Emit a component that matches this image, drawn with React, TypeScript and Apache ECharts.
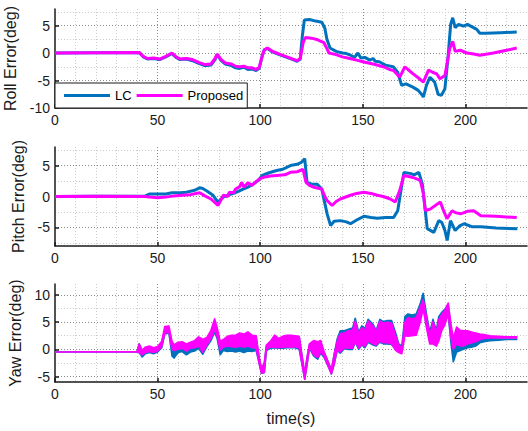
import React, { useEffect, useRef } from 'react';
import * as echarts from 'echarts';

const BLUE = '#0072BD';
const MAG = '#FF00FF';
const INK = '#1a1a1a';
const FONT = "'Liberation Sans', Arial, Helvetica, sans-serif";

const LEGEND_NAMES = ['LC', 'Proposed'];
const Y_NAMES = ['Roll Error(deg)', 'Pitch Error(deg)', 'Yaw Error(deg)'];
const X_NAME = 'time(s)';

// [time, value]
const ROLL_LC = [
  [0, 0], [20, 0.05], [41, 0.1], [43, -0.7], [45, -1.1], [48, -1.0], [51, -1.2], [54, -0.7], [57, -0.1],
  [59, -0.8], [61, -1.2], [64, -1.1], [67, -1.4], [70, -1.9], [73, -2.3], [76, -2.2], [78, -1.2], [79, -0.3],
  [81, -1.4], [83, -2.0], [86, -2.3], [88, -2.7], [90, -2.8], [92, -2.6], [94, -3.0], [96, -2.9], [98, -3.2],
  [99.5, -2.8], [101, -0.5], [102, 0.6], [103.5, 0.8], [106, 0.2], [108, -0.1], [110, -0.4], [113, -0.8],
  [116, -1.2], [118, -1.5], [119.5, -1.1], [120.5, 3.0], [121.5, 6.0], [124, 6.1], [127, 5.8], [130, 5.6],
  [131.5, 4.5], [132.5, 2.5], [134, 0.9], [137, 0.3], [140, 0.0], [142, -0.1], [144, -0.4], [146, -0.8],
  [147.6, 0.0], [149, -0.9], [151, -0.8], [153.4, -1.3], [155, -1.0], [156, -1.5], [158, -1.6], [161, -2.2],
  [164.8, -2.5], [167, -3.5], [168.9, -5.9], [171, -5.6], [174.4, -6.2], [177, -6.8], [178.6, -7.5],
  [179.5, -8.0], [181, -5.9], [182.7, -4.4], [185, -5.3], [186.7, -7.5], [188.3, -7.7], [190, -6.5],
  [191.6, -0.4], [192.8, 5.2], [193.8, 6.4], [195, 4.6], [196.5, 5.2], [199, 4.9], [201, 5.2], [203, 4.8],
  [205.5, 4.3], [207, 3.6], [210, 3.6], [217, 3.7], [225, 3.8],
];

const ROLL_P = [
  [0, 0], [20, 0.05], [41, 0.1], [43, -0.6], [45, -1.0], [48, -0.9], [51, -1.1], [54, -0.6], [57, 0.0],
  [59, -0.7], [61, -1.1], [64, -1.0], [67, -1.2], [70, -1.7], [73, -2.1], [76, -2.0], [78, -1.0], [79, -0.2],
  [81, -1.2], [83, -1.8], [86, -2.0], [88, -2.4], [90, -2.5], [92, -2.4], [94, -2.7], [96, -2.7], [98, -3.0],
  [99.5, -2.6], [101, -0.5], [102, 0.6], [103.5, 0.9], [106, 0.3], [108, 0.0], [110, -0.3], [113, -0.7],
  [116, -1.1], [118, -1.4], [119.5, -1.0], [121, 2.0], [122, 2.8], [125, 2.7], [128, 2.4], [131, 1.9],
  [132.5, 0.8], [133.5, 0.0], [137, -0.3], [140, -0.7], [143.7, -1.0], [147, -1.3], [150, -1.6], [155, -2.0],
  [160, -2.5], [163, -3.0], [165, -3.2], [168, -4.4], [170.5, -2.5], [172, -3.0], [174.5, -3.8], [177, -4.5],
  [179.5, -5.3], [182, -3.1], [184, -3.5], [186, -3.8], [187.6, -4.7], [190, -4.1], [191, -2.0], [192.4, 0.9],
  [193.8, 2.1], [195, 0.3], [197.5, 0.5], [200.7, 0.0], [204, -0.2], [207, -0.4], [213.6, 0.0], [220, 0.5],
  [225, 0.9],
];

const PITCH_LC = [
  [0, 0], [20, 0.05], [44, 0.1], [46, 0.4], [50, 0.4], [54, 0.4], [57, 0.6], [61, 0.6], [64, 0.7], [68, 1.0],
  [70.5, 1.4], [72, 1.3], [74, 0.9], [77, 0.2], [79.4, -0.9], [82, -0.1], [85, 0.3], [87, 0.5], [89, 0.8],
  [91.7, 1.2], [94, 1.5], [96.5, 2.0], [99, 2.6], [101, 3.4], [104, 3.8], [108, 4.2], [111, 4.4], [114.7, 5.0],
  [118, 5.2], [120, 5.5], [121.7, 6.1], [122.8, 2.3], [125, 2.0], [127.7, 2.0], [130, 1.2], [132.6, -2.8],
  [134.3, -4.7], [136, -4.0], [139, -3.9], [142, -4.1], [144, -4.4], [147, -3.8], [150.5, -3.2], [154, -3.4],
  [157, -3.5], [161, -3.4], [165, -3.4], [167, -2.3], [170, 3.9], [173.5, 3.7], [175, 3.5], [177.3, 3.9],
  [179, 2.0], [181.4, -5.2], [184.6, -5.8], [187, -3.9], [188.5, -4.2], [190, -5.5], [191.1, -7.1],
  [192.7, -3.9], [195, -5.5], [197, -4.8], [199.3, -4.4], [203.4, -4.9], [207.5, -4.9], [215, -5.1],
  [225.3, -5.2],
];

const PITCH_P = [
  [0, 0], [20, 0.05], [44, 0.0], [46, -0.1], [50, -0.2], [54, -0.1], [58, 0.1], [62, 0.2], [66, 0.3],
  [70.5, 0.6], [73, 0.1], [76, -0.4], [79.4, -1.45], [81, -0.5], [82, 0.2], [84, 0.0], [85, 0.7], [87, 0.6],
  [88, 1.2], [90, 1.6], [91, 2.3], [92, 1.5], [94, 2.2], [96, 1.8], [98, 2.4], [100, 2.9], [101.7, 3.1],
  [105, 3.3], [108, 3.4], [112, 3.5], [114.7, 3.9], [118, 4.0], [120.8, 4.4], [122.3, 2.3], [124, 1.8],
  [126, 1.5], [130, 1.2], [131.5, 0.0], [132.6, -0.65], [135, -1.45], [137, -0.8], [139, -0.4], [144, 0.2],
  [147, 0.5], [150.5, 0.7], [154, 0.5], [157, 0.2], [160, 0.0], [163.4, -0.4], [165.8, -0.9], [168, 1.0],
  [170, 3.4], [173, 3.2], [175, 3.0], [178, 2.6], [179.5, 0.5], [180.5, -2.3], [183, -2.0], [186, -1.3],
  [187.8, -0.9], [189, -2.0], [191, -3.6], [193.5, -2.3], [195, -2.6], [197.6, -2.8], [201, -2.4],
  [204, -2.3], [207.5, -3.1], [215, -3.2], [225, -3.4],
];

// [time, low edge, high edge] of the noisy yaw band
const YAW_LC = [
  [0, -0.5, -0.5], [40, -0.5, -0.4], [41, -0.6, 1.0], [42.5, -1.4, -0.4], [44, -0.8, 0.3], [46, -0.6, 0.4],
  [48, -0.8, 0.1], [50, -0.5, 0.3], [52, 0.3, 1.2], [53.5, 2.8, 3.6], [55.5, 3.0, 3.8], [57, -1.2, 0.8],
  [58, -1.6, 0.0], [60, -0.6, 1.0], [62, -0.4, 1.2], [64, -1.0, 0.6], [66, -0.5, 1.1], [68, -0.3, 1.4],
  [70, 0.2, 2.0], [72, -0.9, 1.6], [74, 0.5, 2.0], [76, 1.6, 3.2], [77.8, 3.2, 5.0], [79, 2.0, 3.6],
  [80.5, -1.0, 1.0], [82, -0.2, 1.4], [84, -0.4, 2.0], [86, -0.3, 2.2], [88, -0.5, 2.2], [90, -0.3, 2.6],
  [92, -0.6, 2.4], [94, -0.3, 2.8], [96, -0.4, 2.3], [98, -0.2, 2.2], [99.5, -2.6, -1.6], [100.6, -4.4, -3.6],
  [102, -4.3, -2.6], [103, -0.2, 0.6], [105, 0.2, 1.3], [107, 0.3, 2.4], [109, 0.2, 1.8], [111, 0.2, 2.2],
  [113, 0.3, 2.5], [115, 0.3, 2.5], [117, 0.3, 2.3], [119, 0.0, 2.3], [120.5, -3.0, -1.5], [121.7, -5.5, -4.5],
  [122.8, -2.8, -1.6], [124, 0.2, 0.9], [126, -1.2, 1.4], [128, -1.8, 1.3], [129.5, -0.7, 1.5],
  [131, -1.4, -0.5], [133, -3.0, -2.2], [134.7, -4.5, -3.8], [136, -2.8, -1.0], [137.5, -0.2, 1.9],
  [139, -0.7, 3.4], [141, 0.1, 3.4], [143, 0.0, 3.7], [145, 0.0, 3.9], [146.3, 1.3, 5.7], [148, 0.0, 3.1],
  [149.5, 0.8, 4.3], [151, 0.3, 3.8], [152.6, 1.3, 5.5], [155, 0.8, 4.6], [156.5, 0.6, 3.5], [158.3, 1.3, 5.5],
  [160, 1.0, 5.1], [162, 1.0, 5.3], [164, 0.9, 5.3], [166, 0.0, 3.0], [167.5, -0.3, 1.0], [169, -0.4, 0.6],
  [170.5, 3.0, 6.0], [172, 2.8, 6.5], [174, 3.0, 6.3], [176, 3.2, 6.5], [178, 5.5, 8.4], [179.4, 8.0, 10.3],
  [181, 4.5, 6.5], [182.6, 1.5, 3.2], [184.2, 1.5, 5.5], [185.8, 0.8, 3.5], [187, 2.0, 6.0], [188.5, 4.0, 6.8],
  [190, 5.0, 7.4], [191.6, 6.5, 8.2], [193, 1.0, 3.8], [194.1, -2.3, 0.0], [195.7, -0.5, 2.5],
  [197.5, -0.2, 2.0], [199, 0.0, 2.4], [201, 0.3, 2.5], [203, 0.4, 2.4], [205, 0.6, 2.4], [207, 1.2, 2.2],
  [209, 1.4, 2.0], [212, 1.6, 2.0], [216, 1.7, 1.9], [220, 1.8, 1.9], [225, 1.8, 1.9],
];

const YAW_P = [
  [0, -0.5, -0.5], [40, -0.5, -0.4], [41, -0.6, 1.0], [42.5, -1.0, -0.2], [44, -0.6, 0.4], [46, -0.4, 0.6],
  [48, -0.6, 0.3], [50, -0.3, 0.5], [52, 0.5, 1.5], [53.5, 3.0, 4.2], [55.5, 3.2, 4.3], [57, 0.0, 1.5],
  [58, -0.2, 0.8], [60, 0.0, 1.3], [62, 0.2, 1.4], [64, -0.3, 1.0], [66, 0.2, 1.3], [68, 0.3, 1.6],
  [70, 0.6, 2.3], [72, -0.5, 1.8], [74, 0.8, 2.2], [76, 2.0, 3.5], [77.8, 3.6, 5.6], [79, 2.4, 4.0],
  [80.5, -0.1, 1.5], [82, 0.4, 1.8], [84, 0.6, 2.4], [86, 0.5, 2.6], [88, 0.4, 2.6], [90, 0.6, 3.0],
  [92, 0.4, 2.8], [94, 0.6, 3.2], [96, 0.3, 2.6], [98, 0.2, 2.5], [99.5, -2.6, -1.5], [100.6, -4.4, -3.5],
  [102, -4.2, -2.5], [103, 0.0, 0.8], [105, 0.4, 1.5], [107, 0.4, 2.6], [109, 0.3, 2.0], [111, 0.4, 2.4],
  [113, 0.5, 2.6], [115, 0.4, 2.6], [117, 0.5, 2.5], [119, 0.2, 2.4], [120.5, -3.0, -1.5], [121.7, -5.5, -4.5],
  [122.8, -2.8, -1.5], [124, 0.4, 1.0], [126, -1.0, 1.6], [128, -1.5, 1.4], [129.5, -0.5, 1.6],
  [131, -1.2, -0.3], [133, -3.0, -2.2], [134.7, -4.5, -3.8], [136, -2.8, -1.0], [137.5, 0.0, 1.5],
  [139, -0.5, 2.9], [141, 0.3, 3.0], [143, 0.2, 3.4], [145, 0.2, 3.5], [146.3, 1.5, 5.2], [148, 0.2, 2.8],
  [149.5, 1.0, 4.0], [151, 0.5, 3.5], [152.6, 1.5, 5.2], [155, 1.0, 4.3], [156.5, 0.8, 3.2], [158.3, 1.5, 5.2],
  [160, 1.2, 4.8], [162, 1.2, 5.0], [164, 1.0, 4.8], [166, -0.2, 2.5], [167.5, -0.6, 0.8], [169, -0.8, 0.2],
  [170.5, 2.5, 5.0], [172, 2.4, 5.8], [174, 2.5, 5.6], [176, 2.6, 5.8], [178, 5.0, 7.8], [179.4, 7.5, 9.1],
  [181, 4.0, 6.0], [182.6, 1.0, 2.5], [184.2, 1.0, 5.1], [185.8, 0.6, 3.0], [187, 1.5, 5.5], [188.5, 3.5, 6.4],
  [190, 4.5, 7.2], [191.6, 6.5, 8.5], [193, 2.0, 4.5], [194.1, 0.0, 2.0], [195.7, 1.0, 4.1],
  [197.5, 0.6, 3.5], [199, 0.6, 3.4], [201, 1.0, 3.4], [203, 1.2, 3.2], [205, 1.4, 3.0], [207, 1.8, 2.8],
  [209, 2.0, 2.7], [212, 2.1, 2.5], [216, 2.1, 2.4], [220, 2.1, 2.3], [225, 2.1, 2.3],
];

const X_RANGE = [0, 230];
const X_STEP = 50;
const Y_RANGES = [[-10, 8], [-8, 8], [-6, 12]];
const Y_STEP = 5;

const GRIDS = [
  { left: 55, top: 9, width: 472, height: 99 },
  { left: 55, top: 147, width: 472, height: 99 },
  { left: 55, top: 284, width: 472, height: 98 },
];
const NAME_GAPS = [31, 22, 25];

function makeX(i: number) {
  return {
    type: 'value',
    gridIndex: i,
    min: X_RANGE[0],
    max: X_RANGE[1],
    interval: X_STEP,
    axisLine: { show: true, onZero: false, lineStyle: { color: INK, width: 1.5 } },
    axisTick: { show: true, inside: true, length: 4, lineStyle: { color: INK, width: 1.5 } },
    axisLabel: { show: true, margin: 5, fontSize: 14, color: INK, fontFamily: FONT, showMaxLabel: false },
    splitLine: { show: true, showMinLine: false, showMaxLine: false, lineStyle: { color: '#8a8a8a', type: [1, 2], width: 1 } },
    minorTick: { show: false, splitNumber: 5 },
    minorSplitLine: { show: true, lineStyle: { color: '#cccccc', type: [1, 2], width: 1 } },
    name: i === 2 ? X_NAME : '',
    nameLocation: 'middle',
    nameGap: 28,
    nameTextStyle: { fontSize: 16, color: INK, fontFamily: FONT },
  };
}

function makeY(i: number) {
  return {
    type: 'value',
    gridIndex: i,
    min: Y_RANGES[i][0],
    max: Y_RANGES[i][1],
    minInterval: Y_STEP,
    maxInterval: Y_STEP,
    splitNumber: 3,
    axisLine: { show: true, onZero: false, lineStyle: { color: INK, width: 1.5 } },
    axisTick: { show: true, inside: true, length: 4, lineStyle: { color: INK, width: 1.5 } },
    axisLabel: { show: true, margin: 5, fontSize: 14, color: INK, fontFamily: FONT, showMaxLabel: false, showMinLabel: i === 0 },
    splitLine: { show: true, showMinLine: false, showMaxLine: false, lineStyle: { color: '#8a8a8a', type: [1, 2], width: 1 } },
    minorTick: { show: false, splitNumber: 2 },
    minorSplitLine: { show: true, lineStyle: { color: '#cccccc', type: [1, 2], width: 1 } },
    name: Y_NAMES[i],
    nameLocation: 'middle',
    nameGap: NAME_GAPS[i],
    nameTextStyle: { fontSize: 16, color: INK, fontFamily: FONT },
  };
}

function lineSeries(name: string, idx: number, data: number[][], color: string) {
  return {
    type: 'line',
    name,
    xAxisIndex: idx,
    yAxisIndex: idx,
    data,
    symbol: 'none',
    showSymbol: false,
    color,
    itemStyle: { color },
    lineStyle: { color, width: 3 },
    z: 2,
  };
}

function bandSeries(name: string, rows: number[][], color: string) {
  return {
    type: 'custom',
    name,
    xAxisIndex: 2,
    yAxisIndex: 2,
    coordinateSystem: 'cartesian2d',
    data: rows,
    encode: { x: 0, y: [1, 2] },
    clip: true,
    z: 2,
    renderItem: (params: any, api: any) => {
      if (params.dataIndex !== 0) return null;
      const pts: number[][] = [];
      for (let k = 0; k < rows.length; k++) pts.push(api.coord([rows[k][0], rows[k][1]]));
      for (let k = rows.length - 1; k >= 0; k--) pts.push(api.coord([rows[k][0], rows[k][2]]));
      return {
        type: 'polygon',
        shape: { points: pts },
        style: { fill: color, stroke: color, lineWidth: 1.6, lineJoin: 'round' },
      };
    },
  };
}

export default function App() {
  const ref = useRef<HTMLDivElement>(null);
  useEffect(() => {
    if (!ref.current) return;
    const chart = echarts.init(ref.current, null, { renderer: 'svg' });
    const option: any = {
      animation: false,
      backgroundColor: '#ffffff',
      textStyle: { fontFamily: FONT },
      grid: GRIDS.map((g) => ({ ...g, containLabel: false, outerBoundsMode: 'none' })),
      xAxis: [0, 1, 2].map(makeX),
      yAxis: [0, 1, 2].map(makeY),
      legend: {
        show: true,
        left: 55,
        top: 83,
        orient: 'horizontal',
        padding: [4, 4, 4, 9],
        itemGap: 5,
        itemWidth: 46,
        itemHeight: 3,
        backgroundColor: '#ffffff',
        borderColor: INK,
        borderWidth: 1,
        borderRadius: 0,
        selectedMode: false,
        z: 10,
        textStyle: { fontSize: 13, color: '#000', fontFamily: FONT, lineHeight: 17 },
        data: [
          { name: LEGEND_NAMES[0], icon: 'rect', itemStyle: { color: BLUE } },
          { name: LEGEND_NAMES[1], icon: 'rect', itemStyle: { color: MAG } },
        ],
      },
      series: [
        lineSeries(LEGEND_NAMES[0], 0, ROLL_LC, BLUE),
        lineSeries(LEGEND_NAMES[1], 0, ROLL_P, MAG),
        lineSeries(LEGEND_NAMES[0], 1, PITCH_LC, BLUE),
        lineSeries(LEGEND_NAMES[1], 1, PITCH_P, MAG),
        bandSeries('LC yaw', YAW_LC, BLUE),
        bandSeries('Proposed yaw', YAW_P, MAG),
      ],
    };
    chart.setOption(option);
    return () => chart.dispose();
  }, []);
  return (
    <div style={{ position: 'fixed', left: 0, top: 0, width: 528, height: 431, background: '#fff', overflow: 'hidden' }}>
      <div ref={ref} style={{ width: 528, height: 431 }} />
    </div>
  );
}
